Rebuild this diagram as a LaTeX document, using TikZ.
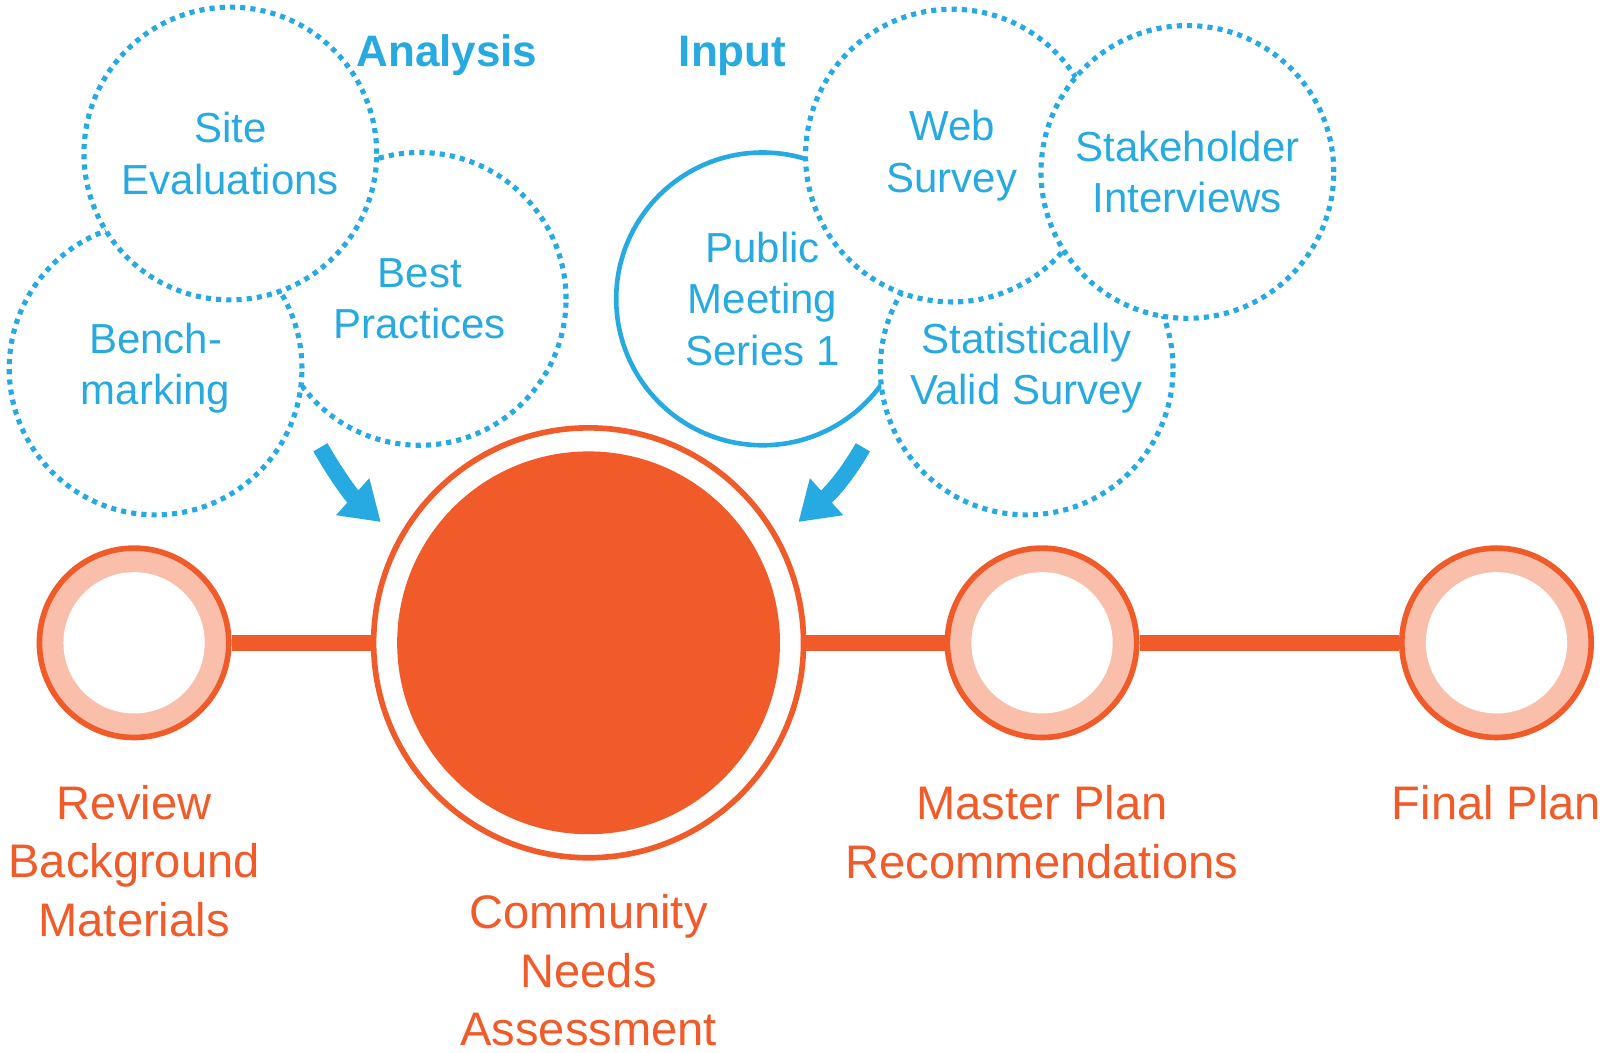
\documentclass[tikz,border=0pt]{standalone}
\usepackage{fontspec}
\setmainfont{Liberation Sans}
\usetikzlibrary{arrows.meta}
\definecolor{bl}{HTML}{27AAE1}
\definecolor{orr}{HTML}{F15A29}
\definecolor{pk}{HTML}{F9BFAB}
\begin{document}
\begin{tikzpicture}[x=1pt,y=1pt,
  bubble/.style={circle, minimum size=286pt, inner sep=0pt, fill=white, draw=bl,
    line width=5pt, dash pattern=on 5pt off 5pt, text=bl,
    font=\fontsize{41}{50}\selectfont, align=center},
  solidbubble/.style={bubble, solid, line width=4.5pt},
  mile/.style={circle, minimum size=185pt, inner sep=0pt, draw=orr, line width=5.5pt, fill=pk},
  bigmile/.style={circle, minimum size=420pt, inner sep=0pt, draw=orr, line width=5.5pt, fill=white},
  olabel/.style={text=orr, font=\fontsize{46}{57}\selectfont, align=center},
  headtxt/.style={text=bl, font=\bfseries\fontsize{43}{50}\selectfont, anchor=base west, inner sep=0pt},
  bar/.style={draw=orr, line width=16pt},
  flow/.style={draw=bl, line width=16pt, -{Triangle[length=37pt,width=46pt]}}
]
\useasboundingbox (0,0) rectangle (1568,1028);

% milestones
\node[mile] (m1) at (131,400) {};
\node[bigmile] (m2) at (575,400) {};
\node[mile] (m3) at (1018,400) {};
\node[mile] (m4) at (1462,400) {};
\fill[white] (m1) circle (69);
\fill[white] (m3) circle (69);
\fill[white] (m4) circle (69);
\fill[orr] (m2) circle (187);
\draw[bar] (m1) -- (m2);
\draw[bar] (m2) -- (m3);
\draw[bar] (m3) -- (m4);

% labels
\node[olabel] (l1) at (131,187) {Review\\Background\\Materials};
\node[olabel] (l2) at (575,80) {Community\\Needs\\Assessment};
\node[olabel] (l3) at (1018,215) {Master Plan\\Recommendations};
\node[olabel] (l4) at (1462,244) {Final Plan};

% analysis bubbles
\node[bubble] (bp) at (410,736) {Best\\Practices};
\node[bubble] (bm) at (152,668) {Bench-\\marking};
\node[bubble] (se) at (225,878) {Site\\Evaluations};

% input bubbles
\node[solidbubble] (pm) at (745,736) {Public\\Meeting\\Series 1};
\node[bubble] (sv) at (1003,668) {Statistically\\Valid Survey};
\node[bubble] (ws) at (930,876) {Web\\Survey};
\node[bubble] (si) at (1160,860) {Stakeholder\\Interviews};

% headings
\node[headtxt] (ha) at (348,963) {Analysis};
\node[headtxt] (hi) at (663,963) {Input};

% arrows
\coordinate (a1s) at (313,591);
\coordinate (a1e) at (372,518);
\coordinate (a2s) at (843,591);
\coordinate (a2e) at (780,518);
\draw[flow] (a1s) to[out=-60,in=138] (a1e);
\draw[flow] (a2s) to[out=-120,in=42] (a2e);
\end{tikzpicture}
\end{document}
